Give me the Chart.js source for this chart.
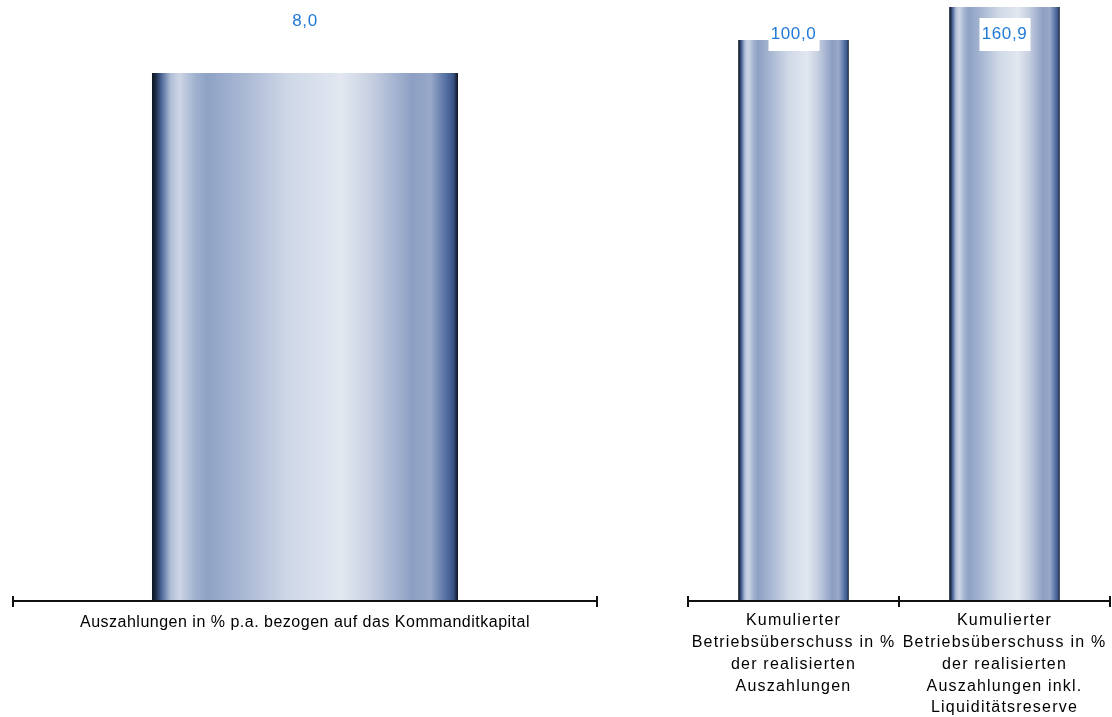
<!DOCTYPE html>
<html>
<head>
<meta charset="utf-8">
<script src="https://cdn.jsdelivr.net/npm/chart.js@4"></script>
<style>
  body { margin: 0; background: #fff; width: 1112px; height: 717px; overflow: hidden; position: relative; }
  canvas { position: absolute; top: 0; }
  #leftChart { left: 0; }
  #rightChart { left: 680px; }
</style>
</head>
<body>
<canvas id="leftChart" width="612" height="717"></canvas>
<canvas id="rightChart" width="432" height="717"></canvas>
<script>
// chart data
const leftLabels = [["Auszahlungen in % p.a. bezogen auf das Kommanditkapital"]];
const leftValues = [8.0];

const rightLabels = [
  ["Kumulierter", "Betriebsüberschuss in %", "der realisierten", "Auszahlungen"],
  ["Kumulierter", "Betriebsüberschuss in %", "der realisierten", "Auszahlungen inkl.", "Liquiditätsreserve"]
];
const rightValues = [100.0, 160.9];

const FONT = "'Liberation Sans', Arial, Helvetica, sans-serif";
const BAR_PCT = 0.524;

// metallic cylinder look, left to right
const cylinderStops = [
  [0.00, "#0e141e"],
  [0.012, "#1c2a44"],
  [0.03, "#4a6496"],
  [0.06, "#aebdd6"],
  [0.09, "#cdd6e6"],
  [0.14, "#a2b3d0"],
  [0.18, "#8ea2c5"],
  [0.30, "#a9b8d3"],
  [0.45, "#cfd8e7"],
  [0.62, "#e2e7f0"],
  [0.72, "#c6cfe1"],
  [0.85, "#8c9fc3"],
  [0.91, "#98a9c9"],
  [0.96, "#5570a2"],
  [0.985, "#3a5487"],
  [1.00, "#0e141e"]
];

function cylinder(context) {
  const chart = context.chart;
  if (!chart.chartArea) return "#8ea2c5";
  const x = chart.scales.x;
  const w = x.width / chart.data.labels.length * BAR_PCT;
  const c = x.getPixelForValue(context.dataIndex);
  const g = chart.ctx.createLinearGradient(c - w / 2, 0, c + w / 2, 0);
  cylinderStops.forEach(([p, col]) => g.addColorStop(p, col));
  return g;
}

// wider letter spacing like the original
const spacing = {
  id: "spacing",
  beforeLayout(chart, args, opts) { chart.ctx.letterSpacing = opts.px + "px"; },
  beforeDraw(chart, args, opts) { chart.ctx.letterSpacing = opts.px + "px"; }
};

// baseline with tick marks at category borders
const axisLine = {
  id: "axisLine",
  afterDatasetsDraw(chart) {
    const ctx = chart.ctx;
    const x = chart.scales.x;
    const y = chart.chartArea.bottom;
    const n = chart.data.labels.length;
    ctx.save();
    ctx.strokeStyle = "#111";
    ctx.lineWidth = 2;
    ctx.beginPath();
    ctx.moveTo(x.left, y);
    ctx.lineTo(x.right, y);
    for (let i = 0; i <= n; i++) {
      const px = Math.round(x.left + i * x.width / n);
      ctx.moveTo(px, y - 5);
      ctx.lineTo(px, y + 6);
    }
    ctx.stroke();
    ctx.restore();
  }
};

// value labels at a fixed height near the top
const valueLabels = {
  id: "valueLabels",
  afterDatasetsDraw(chart, args, opts) {
    const ctx = chart.ctx;
    const meta = chart.getDatasetMeta(0);
    ctx.save();
    ctx.font = "17px " + FONT;
    ctx.letterSpacing = "0.6px";
    ctx.textAlign = "center";
    ctx.textBaseline = "middle";
    meta.data.forEach((bar, i) => {
      const text = chart.data.datasets[0].data[i].toFixed(1).replace(".", ",");
      if (opts.box) {
        ctx.fillStyle = "#fff";
        ctx.fillRect(bar.x - 25, opts.y - 16, 51, 33);
      }
      ctx.fillStyle = "#1e78d7";
      ctx.fillText(text, bar.x, opts.y);
    });
    ctx.restore();
  }
};

function makeChart(id, labels, values, yScale, pad, labelPad, letterPx, valueOpts) {
  return new Chart(document.getElementById(id), {
    type: "bar",
    data: {
      labels: labels,
      datasets: [{
        data: values,
        backgroundColor: cylinder,
        borderWidth: 0,
        barPercentage: 1,
        categoryPercentage: BAR_PCT
      }]
    },
    options: {
      responsive: false,
      animation: false,
      devicePixelRatio: 1,
      layout: { padding: pad },
      plugins: {
        legend: { display: false },
        tooltip: { enabled: false },
        spacing: { px: letterPx },
        valueLabels: valueOpts
      },
      scales: {
        x: {
          grid: { display: false },
          border: { display: false },
          ticks: {
            color: "#000",
            padding: labelPad,
            maxRotation: 0,
            autoSkip: false,
            font: { family: FONT, size: 16, lineHeight: 1.36 }
          },
          afterFit: s => { s.height = 116; }
        },
        y: yScale
      }
    },
    plugins: [spacing, axisLine, valueLabels]
  });
}

makeChart("leftChart", leftLabels, leftValues,
  { display: false, min: 0, max: 9.107 },
  { left: 13, right: 15, top: 0, bottom: 0 }, 3, 0.5,
  { y: 21, box: false });

makeChart("rightChart", rightLabels, rightValues,
  { display: false, type: "logarithmic", min: 0.0308, max: 178, bounds: "data" },
  { left: 8, right: 2, top: 0, bottom: 0 }, 1, 1.2,
  { y: 34, box: true });
</script>
</body>
</html>
